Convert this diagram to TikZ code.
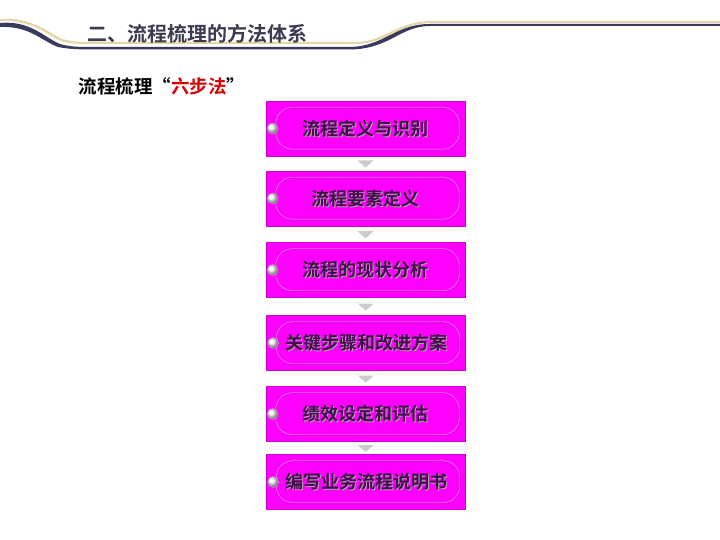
\documentclass[tikz,border=0pt]{standalone}
\usepackage{fontspec}
\setmainfont{Noto Sans CJK SC}
\newfontfamily\cjkb{Noto Sans CJK SC Bold}
\usetikzlibrary{shadows,calc}
\definecolor{mag}{HTML}{FF00FF}
\definecolor{magout}{HTML}{D000D4}
\definecolor{maglt}{HTML}{F464F4}
\definecolor{magdk}{HTML}{D408DC}
\definecolor{txtp}{HTML}{45084F}
\definecolor{navy}{HTML}{3A3A5E}
\definecolor{gold}{HTML}{E6D6A6}
\definecolor{ttl}{HTML}{3C3C50}
\tikzset{
  x=1pt,y=-1pt,
  stepbox/.style={fill=mag, draw=magout, line width=0.6pt, minimum width=199pt, minimum height=55pt, inner sep=0pt},
  steptext/.style={font=\cjkb\fontsize{18}{20}\selectfont, text=txtp},
  ball/.style={circle, minimum size=11pt, inner sep=0pt, shading=ball, ball color=white!90!gray, draw=gray!50, line width=0.3pt},
  tri/.style={fill=gray!40, draw=none},
}
\begin{document}
\begin{tikzpicture}
\useasboundingbox (0,0) rectangle (720,540);
\fill[white] (0,0) rectangle (720,540);
% header curve
\fill[gold] (0,19) .. controls (30,17) and (45,30) .. (60,38) .. controls (70,42) and (80,42) .. (95,42) -- (355,42) .. controls (385,42) and (395,22) .. (430,21) -- (720,21) -- (720,23) -- (430,23) .. controls (397,24) and (387,44) .. (355,44) -- (95,44) .. controls (78,44) and (68,44) .. (58,40) .. controls (44,32) and (30,20) .. (0,21) -- cycle;
\fill[navy] (0,23) .. controls (30,20) and (45,38) .. (60,44) .. controls (70,47) and (80,47) .. (95,47) -- (350,47) .. controls (385,46) and (395,24) .. (430,24) -- (720,24) -- (720,26) -- (430,26) .. controls (400,26) and (390,49) .. (350,49.5) -- (95,49.5) .. controls (78,49.5) and (68,49) .. (58,47) .. controls (40,40) and (30,26) .. (0,27) -- cycle;
\node[anchor=west, text=ttl, font=\cjkb\fontsize{20}{22}\selectfont] (title) at (84,34) {二、流程梳理的方法体系};
\node[anchor=west, font=\cjkb\fontsize{18.5}{20}\selectfont] (sub) at (75,86) {流程梳理“\textcolor{red!85!black}{六步法}”};
% steps
\foreach \i/\y/\x/\t in {1/128.5/365.5/流程定义与识别, 2/198.5/365.5/流程要素定义, 3/270/365.5/流程的现状分析, 4/343/366/关键步骤和改进方案, 5/414/365.5/绩效设定和评估, 6/482/366/编写业务流程说明书}{
  \node[stepbox] (s\i) at (\x,\y) {};
  \draw[magdk, line width=1.4pt, rounded corners=17pt] ([xshift=10pt,yshift=-7pt]s\i.north west) rectangle ([xshift=-6pt,yshift=6.5pt]s\i.south east);
  \draw[maglt, line width=0.8pt, rounded corners=17pt] ([xshift=10pt,yshift=-6.5pt]s\i.north west) rectangle ([xshift=-6pt,yshift=7pt]s\i.south east);
  \node[ball] (b\i) at ([xshift=7pt]s\i.west) {};
  \node[steptext, text=gray!70] at ([xshift=1pt,yshift=-1pt]s\i.center) {\t};
  \node[steptext] (t\i) at (s\i.center) {\t};
}
\foreach \a/\b in {1/2,2/3,3/4,4/5,5/6}{
  \coordinate (m\a) at ($(s\a.south)!0.5!(s\b.north)$);
  \fill[tri] ([xshift=-8pt,yshift=3pt]m\a) -- ([xshift=8pt,yshift=3pt]m\a) -- ([yshift=-4pt]m\a) -- cycle;
}
\end{tikzpicture}
\end{document}
